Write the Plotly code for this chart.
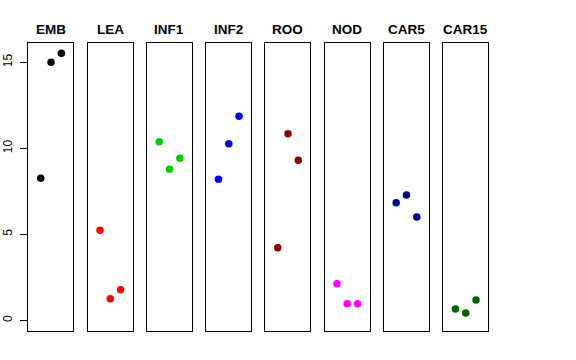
import plotly.graph_objects as go

panels = ["EMB", "LEA", "INF1", "INF2", "ROO", "NOD", "CAR5", "CAR15"]
colors = ["#000000", "#FF0000", "#00CD00", "#0000FF", "#8B0000", "#FF00FF", "#00008B", "#006400"]
rep = [1, 2, 3]
values = {
    "EMB":   [8.26, 15.0, 15.52],
    "LEA":   [5.23, 1.26, 1.78],
    "INF1":  [10.38, 8.78, 9.42],
    "INF2":  [8.20, 10.27, 11.86],
    "ROO":   [4.22, 10.85, 9.30],
    "NOD":   [2.13, 0.97, 0.97],
    "CAR5":  [6.84, 7.28, 6.01],
    "CAR15": [0.66, 0.42, 1.18],
}
yticks = [0, 5, 10, 15]

W, H = 576, 360
fig = go.Figure()
left0, step, pw = 28.4, 59.24, 45.0
top, bottom = 43.0, 331.0
ydom = [1 - bottom / H, 1 - top / H]

for i, (name, col) in enumerate(zip(panels, colors)):
    k = "" if i == 0 else str(i + 1)
    x0 = (left0 + i * step) / W
    x1 = (left0 + i * step + pw) / W
    fig.add_trace(go.Scatter(x=rep, y=values[name], mode="markers",
                             marker=dict(color=col, size=7.5, line=dict(width=0)),
                             xaxis="x" + k, yaxis="y" + k, showlegend=False,
                             hoverinfo="skip"))
    fig.layout["xaxis" + k] = dict(domain=[x0, x1], range=[-0.2, 4.17], showgrid=False,
                                   zeroline=False, showticklabels=False, ticks="",
                                   showline=True, mirror=True, linecolor="#000000",
                                   linewidth=1, anchor="y" + k, fixedrange=True,
                                   automargin=False)
    ya = dict(domain=ydom, range=[-0.62, 16.12], showgrid=False, zeroline=False,
              showline=True, mirror=True, linecolor="#000000", linewidth=1,
              anchor="x" + k, fixedrange=True, automargin=False)
    if i == 0:
        ya.update(tickvals=yticks, ticktext=[str(t) for t in yticks], ticks="outside",
                  ticklen=7, tickcolor="#000000", tickangle=-90,
                  tickfont=dict(family="Liberation Sans, Arial, sans-serif", size=12, color="#000000"),
                  ticklabelstandoff=4)
    else:
        ya.update(showticklabels=False, ticks="")
    fig.layout["yaxis" + k] = ya
    fig.add_annotation(x=(x0 + x1) / 2, y=1 - 29.5 / H, xref="paper", yref="paper",
                       text="<b>%s</b>" % name, showarrow=False,
                       font=dict(family="Liberation Sans, Arial, sans-serif", size=13.5, color="#000000"),
                       xanchor="center", yanchor="middle")

fig.update_layout(width=W, height=H, margin=dict(l=0, r=0, t=0, b=0, autoexpand=False),
                  paper_bgcolor="white", plot_bgcolor="white")
fig.write_html("out.html", config={"displayModeBar": False, "staticPlot": True},
               post_script="document.body.style.margin='0';document.body.style.overflow='hidden';")
